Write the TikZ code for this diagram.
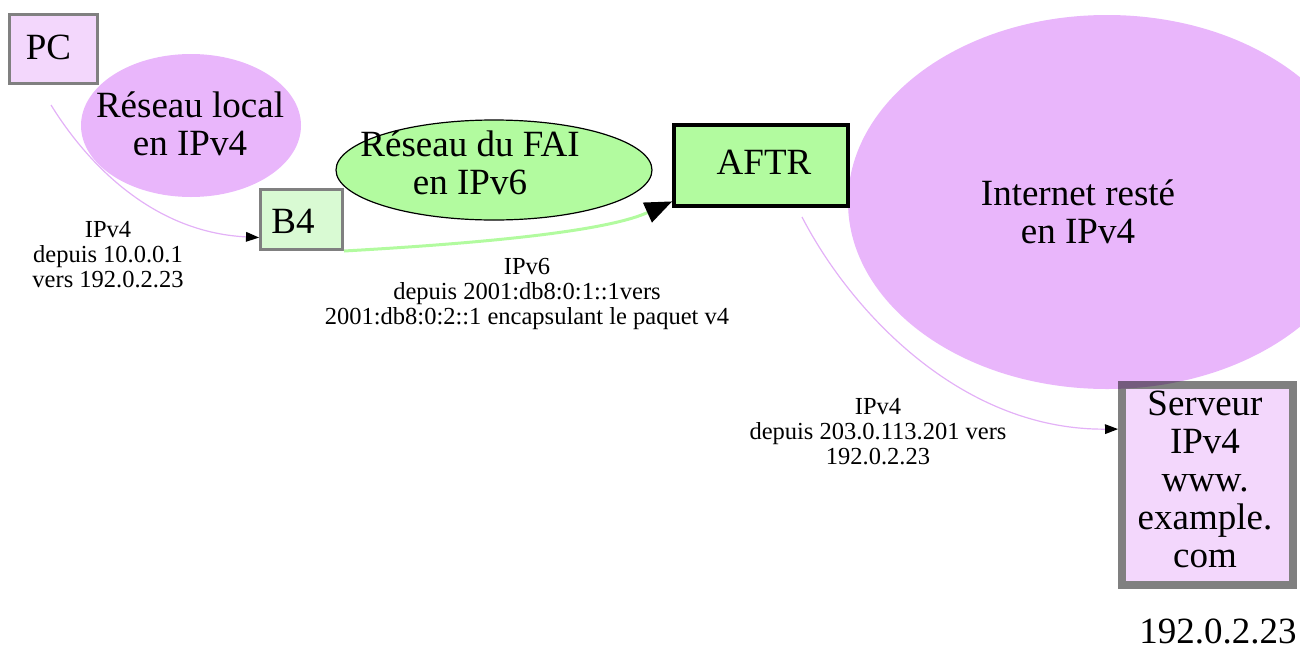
\documentclass[tikz,border=0pt]{standalone}
\usepackage{fontspec}
\setmainfont{Liberation Serif}
\usetikzlibrary{arrows.meta,shapes.geometric,calc}
\definecolor{vio}{HTML}{E9B6FB}
\definecolor{viol}{HTML}{F3D7FC}
\definecolor{viedge}{HTML}{E3B1F7}
\definecolor{grn}{HTML}{B2FB9F}
\definecolor{grnl}{HTML}{D9FAD3}
\definecolor{bord}{HTML}{808080}
\definecolor{bordvio}{HTML}{745B7D}
\begin{document}
\begin{tikzpicture}[x=1pt,y=-1pt,
  big/.style={font=\fontsize{37}{38}\selectfont, align=center, inner sep=0pt},
  small/.style={font=\fontsize{24.5}{25}\selectfont, align=center, inner sep=0pt},
  blob/.style={ellipse, inner sep=0pt},
  graybox/.style={rectangle, inner sep=0pt, draw=bord},
  thinedge/.style={draw=viedge, line width=1.2pt,
    -{Triangle[length=13pt,width=10pt,black,line width=0pt]}},
  thickedge/.style={draw=grn, line width=3pt,
    -{Triangle[length=27pt,width=22pt,black,line width=0pt]}}]
\clip (0,0) rectangle (1300,651);
% shapes
\node[blob, fill=vio, minimum width=518, minimum height=374] (inet) at (1107,202) {};
\node[blob, fill=vio, minimum width=220, minimum height=143] (lan) at (191,125.5) {};
\node[blob, fill=grn, draw=black, line width=1.2pt, minimum width=316, minimum height=100] (fai) at (494,170) {};
\node[graybox, fill=viol, line width=3pt, minimum width=88, minimum height=69] (pc) at (53.5,49) {};
\node[graybox, fill=grnl, line width=3pt, minimum width=82, minimum height=60] (b4) at (301.5,219.5) {};
\node[rectangle, inner sep=0pt, fill=grn, draw=black, line width=4pt, minimum width=174, minimum height=81] (aftr) at (761,165.5) {};
\node[graybox, fill=viol, line width=8pt, minimum width=171, minimum height=200] (srv) at (1207.5,485) {};
% part of the server border that lies over the Internet cloud
\begin{scope}
  \clip (inet.center) ellipse [x radius=259, y radius=187];
  \draw[bordvio, line width=8pt] ($(srv.north west)+(4,4)$) rectangle ($(srv.south east)+(-4,-4)$);
\end{scope}
% free ends of connectors
\coordinate (pcout) at (51,105);
\coordinate (aftrout) at (802,217);
% connectors
\draw[thinedge] (pcout) .. controls (85,160) and (150,232) .. (b4.203.5);
\draw[thickedge] (b4.south east) .. controls (450,245) and (600,234) .. (aftr.202.9);
\draw[thinedge] (aftrout) .. controls (850,310) and (960,430) .. (srv.148.4);
% texts
\node[big] (pct) at (48.5,51.4) {\strut PC};
\node[big] (lant) at (190,128.4) {\strut Réseau local\\\strut en IPv4};
\node[big] (b4t) at (293,225.4) {\strut B4};
\node[big] (fait) at (470,168.1) {\strut Réseau du FAI\\\strut en IPv6};
\node[big] (aftrt) at (764,166.4) {\strut AFTR};
\node[big] (inett) at (1078,216.4) {\strut Internet resté\\\strut en IPv4};
\node[big] (srvt) at (1205,483.4) {\strut Serveur\\\strut IPv4\\\strut www.\\\strut example.\\\strut com};
\node[big, anchor=base] (ipt) at (1218,643) {192.0.2.23};
\node[small] (l1) at (108,257) {\strut IPv4\\\strut depuis 10.0.0.1\\\strut vers 192.0.2.23};
\node[small] (l2) at (527,294) {\strut IPv6\\\strut depuis 2001:db8:0:1::1vers\\\strut 2001:db8:0:2::1 encapsulant le paquet v4};
\node[small] (l3) at (878,434) {\strut IPv4\\\strut depuis 203.0.113.201 vers\\\strut 192.0.2.23};
\end{tikzpicture}
\end{document}
